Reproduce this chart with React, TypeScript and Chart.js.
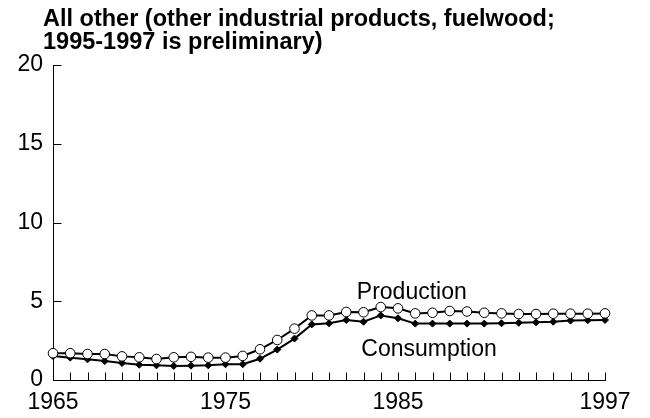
import React, { useEffect, useRef } from "react";
import { Chart, registerables } from "chart.js";

Chart.register(...registerables);

const titleLines = [
  "All other (other industrial products, fuelwood;",
  "1995-1997 is preliminary)",
];
const years = [
  1965, 1966, 1967, 1968, 1969, 1970, 1971, 1972, 1973, 1974, 1975, 1976, 1977,
  1978, 1979, 1980, 1981, 1982, 1983, 1984, 1985, 1986, 1987, 1988, 1989, 1990,
  1991, 1992, 1993, 1994, 1995, 1996, 1997,
];
const production = [
  1.7, 1.7, 1.65, 1.65, 1.5, 1.44, 1.33, 1.44, 1.47, 1.42, 1.42, 1.53, 1.95,
  2.54, 3.26, 4.1, 4.1, 4.32, 4.3, 4.63, 4.55, 4.23, 4.27, 4.38, 4.35, 4.27,
  4.23, 4.19, 4.19, 4.21, 4.21, 4.21, 4.23,
];
const consumption = [
  1.52, 1.42, 1.31, 1.2, 1.08, 0.97, 0.93, 0.89, 0.91, 0.93, 1.0, 1.0, 1.35,
  1.93, 2.63, 3.53, 3.6, 3.81, 3.7, 4.1, 3.92, 3.58, 3.58, 3.58, 3.58, 3.58,
  3.6, 3.63, 3.66, 3.7, 3.77, 3.79, 3.81,
];
const xTickYears = [1965, 1975, 1985, 1997];
const yTicks = [0, 5, 10, 15, 20];
const seriesLabels = [
  { text: "Production", x: 1985.8, y: 5.12 },
  { text: "Consumption", x: 1986.8, y: 1.5 },
];

const FONT = "Arial, 'Liberation Sans', sans-serif";

export default function App() {
  const ref = useRef<HTMLCanvasElement | null>(null);
  useEffect(() => {
    if (!ref.current) return;
    const decor = {
      id: "decor",
      afterDraw(chart: any) {
        const ctx = chart.ctx;
        const xs = chart.scales.x;
        const ys = chart.scales.y;
        ctx.save();
        ctx.strokeStyle = "#000";
        ctx.lineWidth = 1;
        ctx.beginPath();
        for (const v of yTicks) {
          const py = Math.round(ys.getPixelForValue(v)) + 0.5;
          const px = Math.round(xs.left) + 0.5;
          ctx.moveTo(px, py);
          ctx.lineTo(px + 8, py);
        }
        for (const yr of years) {
          const px = Math.round(xs.getPixelForValue(yr)) + 0.5;
          const py = Math.round(ys.bottom) + 0.5;
          ctx.moveTo(px, py);
          ctx.lineTo(px, py - 8);
        }
        ctx.stroke();
        ctx.fillStyle = "#000";
        ctx.font = "bold 23.5px " + FONT;
        ctx.textAlign = "left";
        ctx.textBaseline = "alphabetic";
        ctx.fillText(titleLines[0], 43, 26);
        ctx.fillText(titleLines[1], 43, 49);
        ctx.font = "23px " + FONT;
        ctx.textAlign = "center";
        for (const l of seriesLabels) {
          ctx.fillText(l.text, xs.getPixelForValue(l.x), ys.getPixelForValue(l.y));
        }
        ctx.restore();
      },
    };
    const chart = new Chart(ref.current, {
      type: "line",
      data: {
        datasets: [
          {
            label: "Production",
            data: years.map((y, i) => ({ x: y, y: production[i] })),
            borderColor: "#000",
            borderWidth: 2,
            pointStyle: "circle",
            pointRadius: 4.8,
            pointBackgroundColor: "#fff",
            pointBorderColor: "#000",
            pointBorderWidth: 1,
            tension: 0,
            clip: false,
          },
          {
            label: "Consumption",
            data: years.map((y, i) => ({ x: y, y: consumption[i] })),
            borderColor: "#000",
            borderWidth: 2,
            pointStyle: "rectRot",
            pointRadius: 3.5,
            pointBackgroundColor: "#000",
            pointBorderColor: "#000",
            pointBorderWidth: 1,
            tension: 0,
            clip: false,
          },
        ],
      },
      options: {
        animation: false,
        responsive: false,
        maintainAspectRatio: false,
        layout: { padding: { top: 65, right: 45, left: 0, bottom: 0 } },
        plugins: {
          legend: { display: false },
          title: { display: false },
          tooltip: { enabled: false },
        },
        scales: {
          x: {
            type: "linear",
            min: 1965,
            max: 1997,
            afterBuildTicks: (s: any) => {
              s.ticks = xTickYears.map((v) => ({ value: v }));
            },
            afterFit: (s: any) => {
              s.height = 38;
            },
            grid: { display: false, drawTicks: false },
            border: { display: true, color: "#000", width: 1 },
            ticks: {
              autoSkip: false,
              maxRotation: 0,
              padding: 9,
              color: "#000",
              font: { family: FONT, size: 23 },
              callback: (v: any) => String(v),
            },
          },
          y: {
            min: 0,
            max: 20,
            afterBuildTicks: (s: any) => {
              s.ticks = yTicks.map((v) => ({ value: v }));
            },
            afterFit: (s: any) => {
              s.width = 53;
            },
            grid: { display: false, drawTicks: false },
            border: { display: true, color: "#000", width: 1 },
            ticks: {
              padding: 10,
              color: "#000",
              font: { family: FONT, size: 23 },
            },
          },
        },
      },
      plugins: [decor],
    });
    return () => chart.destroy();
  }, []);
  return (
    <div style={{ position: "fixed", left: 0, top: 0, width: 650, height: 418, background: "#fff" }}>
      <canvas ref={ref} width={650} height={418} style={{ width: 650, height: 418 }} />
    </div>
  );
}
